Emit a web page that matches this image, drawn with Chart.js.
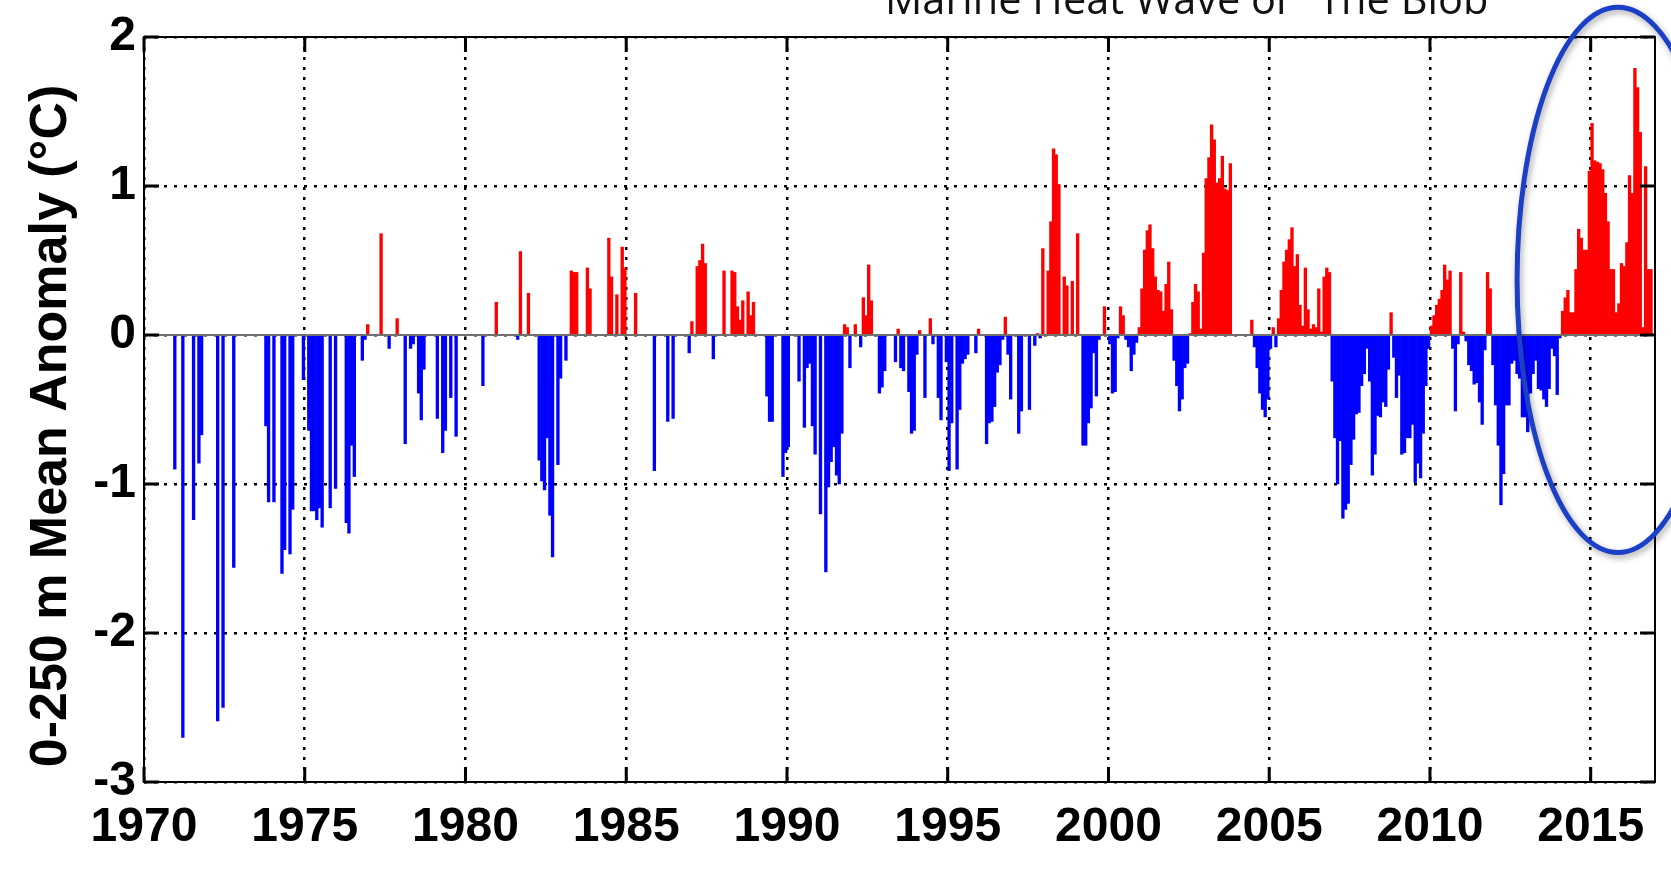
<!DOCTYPE html>
<html>
<head>
<meta charset="utf-8">
<script src="https://cdn.jsdelivr.net/npm/chart.js@4.4.1/dist/chart.umd.min.js"></script>
<style>
  html, body { margin: 0; padding: 0; background: #fff; }
  canvas { display: block; }
</style>
</head>
<body>
<canvas id="chart" width="1671" height="879"></canvas>
<script>
const START_YEAR = 1970;
const END_YEAR = 2017;
const X_TICKS = [1970, 1975, 1980, 1985, 1990, 1995, 2000, 2005, 2010, 2015];
const Y_TICKS = [-3, -2, -1, 0, 1, 2];
const Y_TITLE = '0-250 m Mean Anomaly (°C)';
const CAPTION = 'Marine Heat Wave or \u201CThe Blob\u201D';

// monthly 0-250 m temperature anomaly (°C), Jan..Dec per row, null = no data
const n = null;
const anom1970s = [
  n, n, n, n, n, n, n, n, n, n, n, -0.90,
  n, n, -2.70, n, n, n, -1.24, n, -0.86, -0.67, n, n,
  n, n, n, -2.59, n, -2.50, n, n, n, -1.56, n, n,
  n, n, n, n, n, n, n, n, n, -0.61, -1.12, n,
  -1.12, n, n, -1.60, -1.44, n, -1.47, -1.17, n, n, n, -0.30,
  n, -0.64, -1.18, -1.18, -1.24, -1.16, -1.29, n, n, -1.16, n, -1.03,
  n, n, n, -1.26, -1.33, -0.74, -0.95, n, n, -0.17, -0.03, 0.07,
  n, n, n, n, 0.68, n, n, -0.09, n, n, 0.11, n,
  n, -0.73, n, -0.09, -0.06, n, -0.39, -0.57, -0.23, n, n, n,
  n, -0.56, n, -0.79, -0.64, n, -0.42, n, -0.68, n, n, n,
];
const anom1980s = [
  n, n, n, n, n, n, -0.34, n, n, n, n, 0.22,
  n, n, n, n, n, n, n, -0.03, 0.56, n, n, 0.28,
  n, n, n, -0.84, -0.98, -1.04, -0.69, -1.21, -1.49, n, -0.87, -0.29,
  n, -0.17, n, 0.43, 0.42, 0.42, n, n, n, 0.45, 0.31, n,
  n, n, n, n, n, 0.65, 0.39, n, 0.27, n, 0.59, 0.45,
  n, n, n, 0.28, n, n, n, n, n, n, -0.91, n,
  n, n, n, -0.58, n, -0.56, n, n, n, n, n, -0.12,
  0.09, n, 0.46, 0.50, 0.61, 0.48, n, n, -0.16, n, n, n,
  0.43, n, n, 0.43, 0.42, 0.19, 0.10, 0.23, n, 0.29, 0.13, 0.22,
  n, n, n, n, -0.41, -0.58, -0.58, n, n, n, -0.95, -0.79,
];
const anom1990s = [
  -0.75, n, n, n, -0.31, n, -0.62, -0.22, -0.19, -0.61, -0.80, n,
  -1.20, n, -1.59, -1.02, -0.85, -0.75, -0.94, -1.00, -0.66, 0.07, 0.05, -0.22,
  n, 0.07, n, -0.08, 0.25, 0.13, 0.47, 0.23, n, n, -0.39, -0.35,
  -0.24, n, n, n, -0.18, 0.04, -0.22, -0.24, n, -0.38, -0.66, -0.64,
  -0.13, 0.03, n, -0.42, n, 0.11, -0.06, n, -0.42, -0.57, n, -0.18,
  -0.91, -0.59, n, -0.90, -0.50, -0.19, -0.16, -0.13, n, n, -0.12, 0.04,
  n, n, -0.73, -0.59, -0.58, -0.48, -0.25, -0.20, -0.03, 0.12, -0.13, -0.43,
  n, n, -0.66, -0.51, n, n, -0.50, n, -0.07, 0.01, -0.02, 0.58,
  n, 0.43, 0.76, 1.25, 1.21, 1.01, n, 0.39, 0.33, n, 0.36, n,
  0.68, n, -0.74, -0.74, -0.59, -0.49, -0.12, -0.41, -0.03, n, 0.19, n,
];
const anom2000s = [
  -0.06, -0.39, -0.38, -0.02, 0.19, 0.13, -0.03, -0.08, -0.24, -0.13, -0.05, 0.05,
  0.31, 0.57, 0.70, 0.74, 0.58, 0.39, 0.30, 0.29, 0.16, 0.34, 0.49, 0.17,
  -0.17, -0.34, -0.51, -0.43, -0.22, -0.19, 0.01, 0.22, 0.34, 0.29, 0.04, 0.55,
  1.05, 1.19, 1.41, 1.31, 1.02, 1.05, 1.20, 0.98, 0.97, 1.15, n, n,
  n, n, n, n, n, 0.10, -0.08, -0.22, -0.39, -0.50, -0.55, -0.43,
  -0.09, 0.05, -0.08, 0.11, 0.30, 0.49, 0.57, 0.64, 0.72, 0.46, 0.54, 0.20,
  0.06, 0.45, 0.17, 0.04, 0.07, 0.05, 0.31, 0.02, 0.39, 0.45, 0.42, -0.31,
  -0.69, -1.00, -0.71, -1.23, -1.17, -1.13, -0.87, -0.70, -0.53, -0.52, -0.34, -0.26,
  -0.09, -0.31, -0.94, -0.80, -0.54, -0.55, -0.45, -0.48, -0.23, 0.15, -0.15, -0.42,
  -0.27, -0.80, -0.79, -0.69, -0.69, -0.60, -0.99, -0.86, -0.96, -0.66, -0.34, -0.09,
];
const anom2010s = [
  0.06, 0.13, 0.20, 0.24, 0.30, 0.47, 0.37, 0.43, -0.09, -0.51, -0.06, 0.42,
  0.02, -0.04, -0.20, -0.24, -0.33, -0.32, -0.45, -0.60, -0.10, 0.42, 0.31, -0.20,
  -0.47, -0.74, -1.14, -0.93, -0.47, -0.47, -0.19, -0.17, -0.26, -0.29, -0.55, -0.55,
  -0.65, -0.39, -0.26, -0.17, -0.36, -0.37, -0.43, -0.48, -0.36, -0.09, -0.14, -0.40,
  -0.02, 0.16, 0.25, 0.30, 0.15, 0.15, 0.44, 0.71, 0.65, 0.57, 0.57, 1.10,
  1.42, 1.17, 1.16, 1.15, 1.11, 0.95, 0.76, 0.44, 0.44, 0.15, 0.21, 0.48,
  0.46, 0.62, 1.07, 0.95, 1.79, 1.66, 1.36, 0.05, 1.13, 0.44, 0.44, n,
];

// the "blob" ring, in data units (year, °C)
const BLOB_CENTER = [2015.85, 0.37];
const BLOB_RADIUS = [3.14, 1.83];

const FONT = "'Liberation Sans', Arial, Helvetica, sans-serif";

const monthly = [anom1970s, anom1980s, anom1990s, anom2000s, anom2010s].flat();
const points = [];
monthly.forEach((v, i) => {
  if (v !== null) points.push({ x: START_YEAR + (i + 0.5) / 12, y: v });
});

const overlay = {
  id: 'overlay',
  afterDatasetsDraw(chart) {
    const { ctx, chartArea: a, scales: { x, y } } = chart;
    ctx.save();
    // zero baseline
    const y0 = y.getPixelForValue(0);
    ctx.strokeStyle = '#707070';
    ctx.lineWidth = 2;
    ctx.beginPath();
    ctx.moveTo(a.left, y0);
    ctx.lineTo(a.right, y0);
    ctx.stroke();
    // box and inward ticks
    ctx.strokeStyle = '#000';
    ctx.lineWidth = 2;
    ctx.strokeRect(a.left, a.top, a.right - a.left, a.bottom - a.top);
    ctx.lineWidth = 3;
    ctx.beginPath();
    Y_TICKS.forEach((v) => {
      const p = y.getPixelForValue(v);
      ctx.moveTo(a.left, p); ctx.lineTo(a.left + 15, p);
      ctx.moveTo(a.right, p); ctx.lineTo(a.right - 15, p);
    });
    X_TICKS.forEach((v) => {
      const p = x.getPixelForValue(v);
      ctx.moveTo(p, a.bottom); ctx.lineTo(p, a.bottom - 15);
      ctx.moveTo(p, a.top); ctx.lineTo(p, a.top + 15);
    });
    ctx.stroke();
    ctx.restore();
  },
  afterDraw(chart) {
    const { ctx, scales: { x, y } } = chart;
    ctx.save();
    // y axis title
    ctx.fillStyle = '#000';
    ctx.font = 'bold 52px ' + FONT;
    ctx.textAlign = 'center';
    ctx.textBaseline = 'middle';
    ctx.translate(52, 426);
    ctx.rotate(-Math.PI / 2);
    ctx.fillText(Y_TITLE, 0, 0);
    ctx.restore();

    // caption, cut off by the top edge
    ctx.save();
    ctx.font = "40px 'Open Sans', sans-serif";
    const w = ctx.measureText(CAPTION).width;
    ctx.font = (40 * 618 / w).toFixed(1) + "px 'Open Sans', sans-serif";
    ctx.fillStyle = '#111';
    ctx.textAlign = 'left';
    ctx.textBaseline = 'alphabetic';
    ctx.fillText(CAPTION, 885, 14);
    ctx.restore();

    // ring round the blob
    const cx = x.getPixelForValue(BLOB_CENTER[0]);
    const cy = y.getPixelForValue(BLOB_CENTER[1]);
    const rx = x.getPixelForValue(BLOB_CENTER[0] + BLOB_RADIUS[0]) - cx;
    const ry = cy - y.getPixelForValue(BLOB_CENTER[1] + BLOB_RADIUS[1]);
    ctx.save();
    ctx.shadowColor = 'rgba(0, 0, 0, 0.35)';
    ctx.shadowBlur = 6;
    ctx.shadowOffsetX = 2;
    ctx.shadowOffsetY = 3;
    ctx.strokeStyle = '#1b3fc6';
    ctx.lineWidth = 5;
    ctx.beginPath();
    ctx.ellipse(cx, cy, rx, ry, 0, 0, Math.PI * 2);
    ctx.stroke();
    ctx.restore();
  },
};

const tickFont = { family: FONT, size: 48, weight: 'bold' };

new Chart(document.getElementById('chart'), {
  type: 'bar',
  data: {
    datasets: [
      {
        data: points,
        backgroundColor: (c) => (c.raw && c.raw.y >= 0 ? '#ff0000' : '#0000ff'),
        borderWidth: 0,
        barPercentage: 1.0,
        categoryPercentage: 1.0,
      },
    ],
  },
  options: {
    responsive: false,
    animation: false,
    devicePixelRatio: 1,
    layout: { padding: { left: 0, right: 16, top: 37, bottom: 0 } },
    plugins: {
      legend: { display: false },
      tooltip: { enabled: false },
    },
    scales: {
      x: {
        type: 'linear',
        min: START_YEAR,
        max: END_YEAR,
        offset: false,
        afterBuildTicks: (s) => { s.ticks = X_TICKS.map((v) => ({ value: v })); },
        afterFit: (s) => { s.height = 97; },
        grid: { color: '#000', lineWidth: 2.5, drawTicks: false, offset: false },
        border: { display: false, dash: [3, 7] },
        ticks: {
          color: '#000',
          font: tickFont,
          padding: 17,
          maxRotation: 0,
          autoSkip: false,
          callback: (v) => String(v),
        },
      },
      y: {
        min: -3,
        max: 2,
        afterBuildTicks: (s) => { s.ticks = Y_TICKS.map((v) => ({ value: v })); },
        afterFit: (s) => { s.width = 144; },
        grid: { color: '#000', lineWidth: 2.5, drawTicks: false },
        border: { display: false, dash: [3, 7] },
        ticks: {
          color: '#000',
          font: tickFont,
          padding: 8,
          callback: (v) => String(v),
        },
      },
    },
  },
  plugins: [overlay],
});
</script>
</body>
</html>
